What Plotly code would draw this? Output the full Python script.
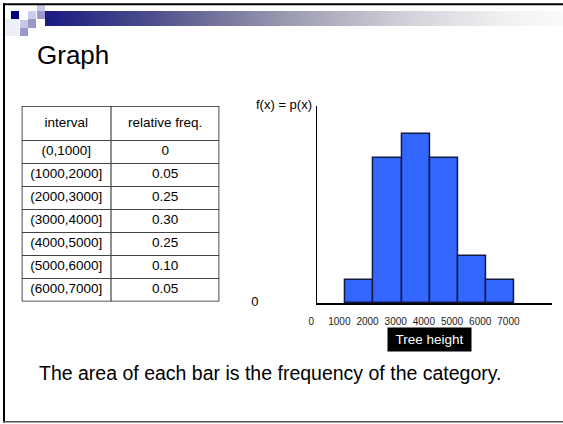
import plotly.graph_objects as go

# ---------------- data ----------------
intervals = ["(0,1000]", "(1000,2000]", "(2000,3000]", "(3000,4000]",
             "(4000,5000]", "(5000,6000]", "(6000,7000]"]
rel_freq = [0, 0.05, 0.25, 0.30, 0.25, 0.10, 0.05]
bin_left = [0, 1000, 2000, 3000, 4000, 5000, 6000]
bin_width = 1000
# bar heights as drawn in the picture (f(x) units; the sketch is not exactly to scale)
bar_height = [0, 0.05, 0.312, 0.362, 0.312, 0.10, 0.05]
x_ticks = [0, 1000, 2000, 3000, 4000, 5000, 6000, 7000]
x_tick_labels = ["0", "1000", "2000", "3000", "4000", "5000", "6000", "7000"]
table_header = ["interval", "relative freq."]
title_text = "Graph"
y_label = "f(x) = p(x)"
x_label = "Tree height"
caption = "The area of each bar is the frequency of the category."

# ---------------- helpers ----------------
W, H = 563, 424
FONT = "Liberation Sans, Arial, sans-serif"


def px(x):
    return x / W


def py(y):
    return 1 - y / H


freq_labels = ["0" if v == 0 else f"{v:.2f}" for v in rel_freq]
bar_mid = [l + bin_width / 2 for l in bin_left]
bar_outline = [1.5 if h > 0 else 0 for h in bar_height]

# table geometry (in table pixel units, drawn on its own axes x2/y2)
TL, TR, TT, TB = 21.7, 219.3, 106, 301.5
col_w = [89.3, TR - TL - 89.3]
head_h = 34.5
row_h = (TB - TT - head_h) / len(intervals)
col_edges = [0, col_w[0], col_w[0] + col_w[1]]
row_edges = [0, head_h] + [head_h + row_h * (i + 1) for i in range(len(intervals))]
col_mid = [(a + b) / 2 for a, b in zip(col_edges[:-1], col_edges[1:])]
row_mid = [(a + b) / 2 for a, b in zip(row_edges[:-1], row_edges[1:])]

fig = go.Figure()

# histogram bars
fig.add_trace(go.Bar(
    x=bar_mid, y=bar_height, width=bin_width,
    marker=dict(color="#3366FF", line=dict(color="#111a44", width=bar_outline)),
    hoverinfo="skip", showlegend=False,
))

# table text
tx, ty, tt = [], [], []
for c, lab in enumerate(table_header):
    tx.append(col_mid[c]); ty.append(row_mid[0]); tt.append(lab)
for r, (a, b) in enumerate(zip(intervals, freq_labels)):
    tx += [col_mid[0], col_mid[1]]
    ty += [row_mid[r + 1], row_mid[r + 1]]
    tt += [a, b]
fig.add_trace(go.Scatter(
    x=tx, y=ty, text=tt, mode="text", xaxis="x2", yaxis="y2",
    textfont=dict(family=FONT, size=13.5, color="black"),
    hoverinfo="skip", showlegend=False,
))

shapes = []
# table grid
for i, xe in enumerate(col_edges):
    outer = i in (0, len(col_edges) - 1)
    shapes.append(dict(type="line", xref="x2", yref="y2", x0=xe, x1=xe,
                       y0=row_edges[0], y1=row_edges[-1],
                       line=dict(color="#222222" if outer else "#444444",
                                 width=1.6 if outer else 1.2)))
for i, ye in enumerate(row_edges):
    outer = i in (0, len(row_edges) - 1)
    shapes.append(dict(type="line", xref="x2", yref="y2", x0=col_edges[0], x1=col_edges[-1],
                       y0=ye, y1=ye,
                       line=dict(color="#222222" if outer else "#444444",
                                 width=1.6 if outer else 1.2)))

# ---------------- decoration (slide frame + header) ----------------
stops = [(0.0, (26, 26, 128)), (0.2, (76, 76, 140)), (0.3, (106, 106, 152)),
         (0.49, (160, 160, 180)), (0.69, (208, 208, 216)), (0.88, (240, 240, 242)),
         (1.0, (250, 250, 250))]


def grad(t):
    for (t0, c0), (t1, c1) in zip(stops[:-1], stops[1:]):
        if t <= t1:
            f = (t - t0) / (t1 - t0)
            return "rgb(%d,%d,%d)" % tuple(round(a + (b - a) * f) for a, b in zip(c0, c1))
    return "rgb(250,250,250)"


gx0, gx1, step = 45, 563, 4
x = gx0
while x < gx1:
    xe = min(x + step, gx1)
    t = (x + step / 2 - gx0) / (gx1 - gx0)
    shapes.append(dict(type="rect", xref="paper", yref="paper",
                       x0=px(x), x1=px(xe + 0.6), y0=py(26), y1=py(11),
                       fillcolor=grad(t), line=dict(width=0), layer="below"))
    x = xe

squares = [
    (5, 19, 19, 36, "#eeeef7"),
    (37, 45, 5, 11, "#c8c8e6"),
    (11, 19, 11, 19, "#000080"),
    (28, 36, 11, 19, "#ccccee"),
    (37, 45, 11, 19, "#9999cc"),
    (20, 28, 20, 28, "#c8c8e6"),
    (28, 36, 19, 28, "#9999cc"),
    (20, 28, 28, 36, "#9999cc"),
]
for x0, x1, y0, y1, c in squares:
    shapes.append(dict(type="rect", xref="paper", yref="paper",
                       x0=px(x0), x1=px(x1), y0=py(y1), y1=py(y0),
                       fillcolor=c, line=dict(width=0), layer="below"))

# frame
shapes.append(dict(type="rect", xref="paper", yref="paper", x0=px(3), x1=1,
                   y0=py(5.3), y1=py(3.3), fillcolor="black", line=dict(width=0)))
shapes.append(dict(type="rect", xref="paper", yref="paper", x0=px(3), x1=px(5),
                   y0=py(422.5), y1=py(3.3), fillcolor="black", line=dict(width=0)))
shapes.append(dict(type="line", xref="paper", yref="paper", x0=px(3), x1=1,
                   y0=py(421.8), y1=py(421.8), line=dict(color="#555555", width=1.5)))

annotations = [
    dict(text=title_text, xref="paper", yref="paper", x=px(35), y=py(55),
         xanchor="left", yanchor="middle", showarrow=False,
         font=dict(family=FONT, size=26, color="black")),
    dict(text=y_label, xref="paper", yref="paper", x=px(313.5), y=py(105),
         xanchor="right", yanchor="middle", showarrow=False,
         font=dict(family=FONT, size=13, color="black")),
    dict(text=x_label, xref="x", yref="paper", x=4000, y=py(339),
         xanchor="center", yanchor="middle", showarrow=False,
         bgcolor="black", borderpad=0, width=83, height=23,
         font=dict(family=FONT, size=13.5, color="white")),
    dict(text=caption, xref="paper", yref="paper", x=px(37), y=py(372.7),
         xanchor="left", yanchor="middle", showarrow=False,
         font=dict(family=FONT, size=19.5, color="black")),
]

fig.update_layout(
    width=W, height=H, autosize=False,
    margin=dict(l=0, r=0, t=0, b=0, pad=0),
    paper_bgcolor="white", plot_bgcolor="rgba(0,0,0,0)",
    showlegend=False, bargap=0,
    font=dict(family=FONT, color="black"),
    shapes=shapes, annotations=annotations,
    xaxis=dict(domain=[px(317.2), px(551.7)], range=[0, 8325],
               showline=True, linecolor="black", linewidth=1.5,
               showgrid=False, zeroline=False, ticks="",
               tickvals=x_ticks, ticktext=x_tick_labels,
               tickfont=dict(family=FONT, size=10, color="#222222"),
               ticklabelshift=-6, ticklabelstandoff=8, fixedrange=True,
               automargin=False),
    yaxis=dict(domain=[py(303), py(106)], range=[0, 0.4227],
               showline=True, linecolor="black", linewidth=1,
               showgrid=False, zeroline=False, ticks="",
               tickvals=[0], ticktext=["0"],
               tickfont=dict(family=FONT, size=13, color="black"),
               ticklabelstandoff=55, ticklabelshift=-2, fixedrange=True,
               automargin=False),
    xaxis2=dict(domain=[px(TL), px(TR)], range=[col_edges[0], col_edges[-1]],
                anchor="y2", visible=False, fixedrange=True),
    yaxis2=dict(domain=[py(TB), py(TT)], range=[row_edges[-1], row_edges[0]],
                anchor="x2", visible=False, fixedrange=True),
)

fig.write_html(
    "out.html",
    config={"displayModeBar": False},
    post_script="document.body.style.margin='0';document.body.style.overflow='hidden';",
)
